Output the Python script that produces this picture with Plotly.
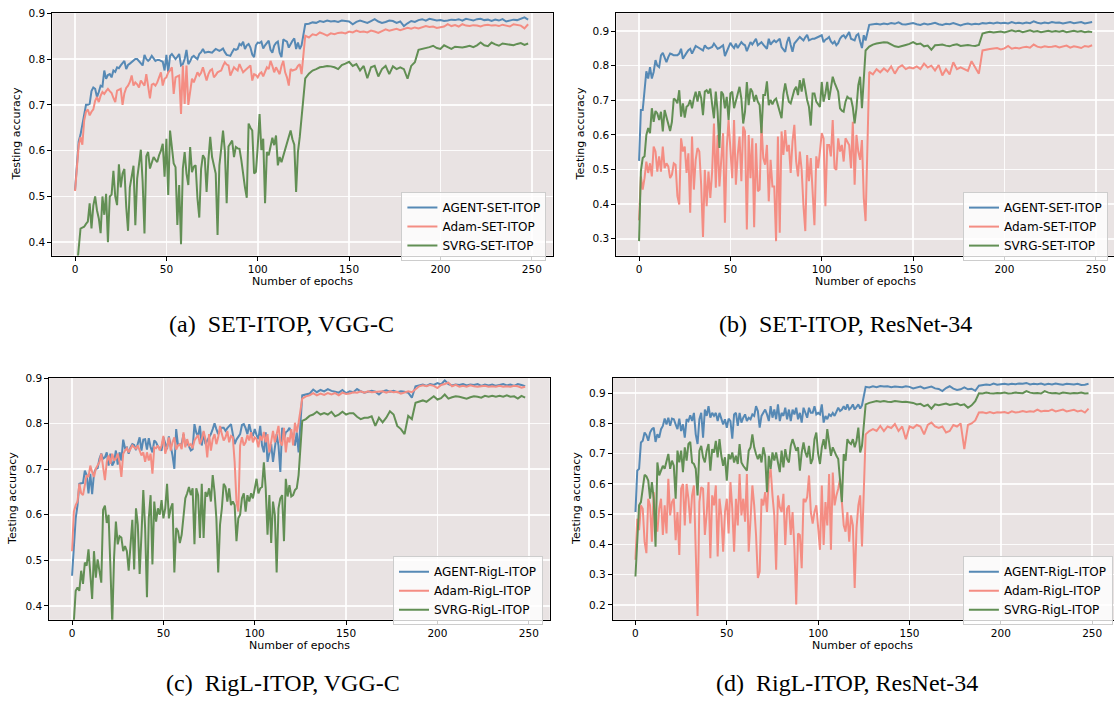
import plotly.graph_objects as go

# ---------------- data ----------------
EPOCHS_EARLY = list(range(0, 125))
EPOCHS_LATE = list(range(126, 250, 2))
EPOCHS = EPOCHS_EARLY + EPOCHS_LATE

# (a) SET-ITOP, VGG-C
A_AGENT_EARLY = [0.514,0.57,0.62,0.635,0.655,0.675,0.70,0.70,0.702,0.73,
 0.738,0.735,0.717,0.728,0.742,0.74,0.775,0.757,0.765,0.767,
 0.76,0.775,0.772,0.782,0.78,0.786,0.79,0.796,0.778,0.787,
 0.79,0.794,0.797,0.80,0.80,0.796,0.79,0.786,0.809,0.80,
 0.796,0.80,0.807,0.80,0.796,0.798,0.798,0.796,0.794,0.775,
 0.809,0.771,0.807,0.811,0.806,0.80,0.805,0.811,0.786,0.789,
 0.80,0.82,0.789,0.795,0.804,0.807,0.803,0.80,0.811,0.815,
 0.822,0.814,0.815,0.816,0.815,0.814,0.818,0.822,0.82,0.818,
 0.82,0.823,0.815,0.809,0.808,0.807,0.815,0.822,0.82,0.822,
 0.833,0.83,0.838,0.822,0.83,0.833,0.825,0.81,0.804,0.83,
 0.836,0.835,0.838,0.823,0.83,0.836,0.84,0.82,0.814,0.829,
 0.835,0.838,0.814,0.804,0.843,0.84,0.838,0.825,0.833,0.84,
 0.845,0.822,0.836,0.822,0.83]
A_AGENT_LATE = [0.876,0.877,0.88,0.879,0.883,0.881,0.884,0.882,0.883,0.881,
 0.884,0.883,0.882,0.876,0.881,0.884,0.882,0.879,0.883,0.887,
 0.882,0.879,0.881,0.884,0.883,0.879,0.882,0.872,0.878,0.883,
 0.881,0.885,0.887,0.884,0.888,0.886,0.884,0.885,0.883,0.884,
 0.886,0.885,0.887,0.884,0.888,0.886,0.884,0.887,0.888,0.885,
 0.886,0.883,0.886,0.884,0.887,0.882,0.884,0.886,0.885,0.888,
 0.891,0.886]
A_ADAM_EARLY = [0.512,0.56,0.612,0.63,0.613,0.666,0.685,0.69,0.677,0.685,
 0.69,0.709,0.717,0.706,0.72,0.728,0.724,0.73,0.735,0.73,
 0.726,0.715,0.706,0.731,0.733,0.735,0.70,0.725,0.737,0.742,
 0.75,0.764,0.742,0.749,0.745,0.738,0.753,0.748,0.742,0.767,
 0.74,0.714,0.744,0.746,0.742,0.749,0.76,0.771,0.742,0.757,
 0.76,0.771,0.775,0.782,0.724,0.76,0.762,0.764,0.68,0.786,
 0.702,0.786,0.70,0.73,0.757,0.749,0.76,0.771,0.764,0.77,
 0.782,0.77,0.753,0.767,0.775,0.778,0.76,0.765,0.771,0.773,
 0.775,0.785,0.793,0.788,0.786,0.764,0.772,0.782,0.778,0.775,
 0.789,0.78,0.771,0.775,0.778,0.782,0.786,0.753,0.767,0.765,
 0.76,0.768,0.771,0.762,0.772,0.782,0.778,0.796,0.785,0.771,
 0.782,0.775,0.767,0.785,0.796,0.771,0.76,0.742,0.778,0.775,
 0.776,0.778,0.785,0.789,0.767]
A_ADAM_LATE = [0.851,0.847,0.854,0.852,0.858,0.855,0.851,0.856,0.854,0.857,
 0.858,0.856,0.86,0.858,0.862,0.859,0.86,0.858,0.862,0.86,
 0.857,0.861,0.865,0.862,0.864,0.866,0.863,0.865,0.868,0.866,
 0.869,0.867,0.869,0.872,0.87,0.871,0.868,0.869,0.871,0.876,
 0.872,0.874,0.871,0.876,0.873,0.872,0.874,0.873,0.871,0.874,
 0.875,0.873,0.874,0.872,0.875,0.873,0.871,0.876,0.874,0.873,
 0.867,0.876]
A_SVRG_EARLY = [0.30,0.34,0.39,0.43,0.432,0.434,0.44,0.445,0.485,0.43,
 0.48,0.50,0.47,0.452,0.42,0.50,0.46,0.506,0.40,0.50,
 0.504,0.556,0.50,0.481,0.57,0.52,0.55,0.56,0.478,0.425,
 0.52,0.547,0.567,0.437,0.539,0.57,0.602,0.532,0.419,0.588,
 0.597,0.561,0.575,0.586,0.58,0.575,0.59,0.60,0.615,0.543,
 0.626,0.503,0.644,0.60,0.572,0.564,0.438,0.525,0.396,0.561,
 0.597,0.55,0.525,0.608,0.553,0.565,0.568,0.496,0.454,0.56,
 0.59,0.583,0.51,0.58,0.63,0.586,0.57,0.55,0.416,0.568,
 0.604,0.644,0.60,0.485,0.609,0.615,0.622,0.586,0.608,0.605,
 0.604,0.58,0.546,0.52,0.497,0.659,0.65,0.644,0.55,0.554,
 0.61,0.68,0.601,0.626,0.485,0.597,0.59,0.61,0.628,0.612,
 0.633,0.568,0.586,0.575,0.59,0.604,0.62,0.63,0.644,0.625,
 0.613,0.51,0.597,0.63,0.677]
A_SVRG_LATE = [0.758,0.768,0.775,0.778,0.782,0.783,0.785,0.784,0.782,0.778,
 0.787,0.79,0.794,0.785,0.789,0.775,0.785,0.758,0.782,0.785,
 0.762,0.778,0.785,0.767,0.784,0.778,0.782,0.778,0.757,0.785,
 0.793,0.82,0.822,0.823,0.826,0.829,0.824,0.822,0.83,0.826,
 0.822,0.827,0.826,0.825,0.827,0.829,0.826,0.83,0.836,0.83,
 0.828,0.836,0.832,0.829,0.834,0.833,0.831,0.83,0.833,0.835,
 0.831,0.834]

# (b) SET-ITOP, ResNet-34
B_AGENT_EARLY = [0.525,0.672,0.672,0.72,0.784,0.763,0.796,0.763,0.782,0.816,
 0.80,0.796,0.83,0.837,0.825,0.81,0.825,0.835,0.833,0.83,
 0.83,0.83,0.835,0.849,0.82,0.83,0.837,0.845,0.849,0.835,
 0.845,0.857,0.854,0.851,0.848,0.844,0.859,0.852,0.849,0.852,
 0.854,0.864,0.855,0.849,0.851,0.855,0.859,0.828,0.84,0.854,
 0.866,0.857,0.851,0.864,0.851,0.86,0.868,0.862,0.859,0.842,
 0.855,0.868,0.861,0.87,0.878,0.859,0.864,0.868,0.861,0.855,
 0.849,0.878,0.861,0.868,0.873,0.868,0.873,0.878,0.854,0.845,
 0.84,0.868,0.883,0.86,0.84,0.864,0.87,0.878,0.883,0.878,
 0.873,0.882,0.889,0.873,0.876,0.878,0.878,0.88,0.883,0.886,
 0.888,0.868,0.875,0.878,0.883,0.87,0.864,0.87,0.859,0.865,
 0.878,0.885,0.888,0.88,0.89,0.897,0.878,0.876,0.873,0.888,
 0.892,0.87,0.851,0.888,0.873]
B_AGENT_LATE = [0.918,0.92,0.921,0.919,0.922,0.92,0.923,0.921,0.925,0.92,
 0.919,0.921,0.923,0.92,0.918,0.922,0.919,0.921,0.924,0.92,
 0.918,0.921,0.92,0.923,0.919,0.916,0.92,0.922,0.919,0.921,
 0.92,0.923,0.922,0.924,0.922,0.925,0.923,0.924,0.922,0.926,
 0.923,0.924,0.922,0.925,0.923,0.928,0.924,0.922,0.925,0.923,
 0.926,0.924,0.925,0.922,0.924,0.926,0.923,0.924,0.926,0.922,
 0.925,0.926]
B_ADAM_EARLY = [0.353,0.48,0.442,0.475,0.523,0.49,0.518,0.48,0.566,0.552,
 0.494,0.538,0.494,0.566,0.504,0.518,0.509,0.475,0.485,0.518,
 0.514,0.423,0.399,0.59,0.552,0.566,0.49,0.547,0.375,0.595,
 0.442,0.528,0.562,0.552,0.456,0.305,0.499,0.394,0.494,0.418,
 0.494,0.633,0.447,0.60,0.451,0.523,0.605,0.346,0.562,0.643,
 0.562,0.475,0.643,0.456,0.542,0.595,0.466,0.624,0.61,0.327,
 0.60,0.475,0.59,0.333,0.576,0.437,0.442,0.629,0.533,0.514,
 0.571,0.408,0.528,0.451,0.451,0.293,0.595,0.317,0.61,0.542,
 0.614,0.552,0.571,0.49,0.581,0.629,0.523,0.48,0.552,0.499,
 0.394,0.322,0.542,0.466,0.533,0.442,0.339,0.538,0.504,0.552,
 0.605,0.59,0.394,0.571,0.571,0.538,0.643,0.504,0.499,0.59,
 0.552,0.571,0.523,0.59,0.581,0.571,0.504,0.638,0.456,0.60,
 0.552,0.528,0.585,0.418,0.351]
B_ADAM_LATE = [0.782,0.775,0.79,0.781,0.792,0.783,0.798,0.777,0.795,0.801,
 0.79,0.795,0.792,0.798,0.79,0.806,0.795,0.80,0.786,0.802,
 0.772,0.79,0.775,0.81,0.79,0.795,0.79,0.785,0.813,0.795,
 0.777,0.844,0.845,0.848,0.85,0.851,0.847,0.85,0.857,0.849,
 0.852,0.85,0.853,0.855,0.852,0.861,0.855,0.853,0.856,0.854,
 0.855,0.857,0.853,0.856,0.858,0.852,0.856,0.854,0.851,0.857,
 0.855,0.859]
B_SVRG_EARLY = [0.293,0.495,0.533,0.538,0.60,0.62,0.605,0.677,0.638,0.669,
 0.662,0.643,0.667,0.61,0.672,0.653,0.633,0.611,0.638,0.705,
 0.701,0.691,0.729,0.653,0.691,0.65,0.681,0.686,0.701,0.677,
 0.705,0.725,0.696,0.726,0.707,0.657,0.725,0.729,0.72,0.734,
 0.688,0.648,0.725,0.667,0.562,0.725,0.717,0.677,0.71,0.643,
 0.72,0.725,0.677,0.701,0.715,0.739,0.705,0.633,0.667,0.753,
 0.686,0.734,0.725,0.696,0.715,0.696,0.686,0.605,0.715,0.715,
 0.755,0.686,0.701,0.688,0.70,0.705,0.686,0.67,0.648,0.717,
 0.749,0.72,0.696,0.691,0.715,0.73,0.739,0.715,0.758,0.725,
 0.763,0.73,0.701,0.681,0.627,0.72,0.72,0.696,0.69,0.681,
 0.753,0.696,0.72,0.753,0.701,0.734,0.768,0.751,0.74,0.725,
 0.677,0.67,0.667,0.696,0.71,0.705,0.705,0.68,0.633,0.677,
 0.744,0.768,0.677,0.758,0.844]
B_SVRG_LATE = [0.855,0.861,0.864,0.866,0.868,0.867,0.861,0.856,0.854,0.858,
 0.86,0.863,0.868,0.862,0.864,0.856,0.858,0.846,0.859,0.86,
 0.861,0.858,0.856,0.86,0.862,0.857,0.859,0.86,0.858,0.857,
 0.86,0.893,0.896,0.898,0.896,0.897,0.899,0.896,0.898,0.902,
 0.899,0.901,0.897,0.899,0.902,0.898,0.90,0.897,0.899,0.901,
 0.898,0.90,0.898,0.901,0.897,0.899,0.901,0.898,0.90,0.897,
 0.899,0.897]

# (c) RigL-ITOP, VGG-C
C_AGENT_EARLY = [0.466,0.542,0.592,0.621,0.668,0.669,0.67,0.697,0.687,0.647,
 0.69,0.645,0.69,0.701,0.702,0.723,0.734,0.723,0.726,0.737,
 0.708,0.734,0.708,0.716,0.741,0.71,0.737,0.719,0.765,0.746,
 0.748,0.734,0.748,0.755,0.753,0.742,0.759,0.77,0.741,0.765,
 0.766,0.743,0.768,0.748,0.737,0.763,0.759,0.75,0.746,0.741,
 0.77,0.755,0.744,0.772,0.752,0.73,0.701,0.788,0.752,0.755,
 0.755,0.777,0.752,0.759,0.75,0.741,0.744,0.799,0.78,0.772,
 0.795,0.752,0.781,0.755,0.763,0.77,0.777,0.788,0.801,0.788,
 0.777,0.785,0.791,0.791,0.784,0.79,0.795,0.799,0.777,0.755,
 0.765,0.77,0.777,0.797,0.799,0.79,0.777,0.799,0.781,0.773,
 0.788,0.775,0.766,0.795,0.752,0.737,0.781,0.716,0.737,0.755,
 0.716,0.748,0.777,0.752,0.694,0.791,0.766,0.781,0.784,0.791,
 0.781,0.766,0.752,0.781,0.737]
C_AGENT_LATE = [0.862,0.864,0.866,0.875,0.869,0.874,0.871,0.876,0.872,0.87,
 0.868,0.874,0.867,0.871,0.869,0.876,0.871,0.868,0.87,0.872,
 0.87,0.864,0.871,0.873,0.87,0.872,0.869,0.871,0.87,0.868,
 0.857,0.882,0.884,0.886,0.883,0.887,0.885,0.889,0.886,0.895,
 0.887,0.884,0.886,0.885,0.887,0.884,0.886,0.885,0.887,0.883,
 0.886,0.884,0.886,0.883,0.885,0.887,0.884,0.886,0.883,0.887,
 0.885,0.882]
C_ADAM_EARLY = [0.52,0.607,0.621,0.629,0.668,0.647,0.643,0.665,0.687,0.683,
 0.708,0.694,0.683,0.701,0.708,0.716,0.734,0.701,0.676,0.716,
 0.73,0.712,0.734,0.719,0.723,0.734,0.716,0.683,0.734,0.741,
 0.746,0.737,0.744,0.752,0.748,0.745,0.752,0.741,0.73,0.737,
 0.716,0.737,0.719,0.734,0.69,0.748,0.746,0.752,0.741,0.752,
 0.773,0.734,0.748,0.77,0.741,0.759,0.77,0.743,0.752,0.755,
 0.744,0.781,0.748,0.766,0.752,0.755,0.746,0.763,0.77,0.775,
 0.755,0.766,0.784,0.766,0.726,0.777,0.741,0.766,0.777,0.755,
 0.77,0.795,0.777,0.763,0.77,0.784,0.759,0.773,0.77,0.716,
 0.629,0.607,0.752,0.77,0.752,0.759,0.775,0.763,0.781,0.759,
 0.77,0.766,0.748,0.773,0.763,0.782,0.759,0.777,0.737,0.766,
 0.784,0.759,0.777,0.795,0.759,0.752,0.791,0.737,0.77,0.759,
 0.788,0.752,0.802,0.781,0.802]
C_ADAM_LATE = [0.855,0.86,0.862,0.867,0.862,0.866,0.863,0.867,0.864,0.867,
 0.862,0.868,0.865,0.866,0.869,0.868,0.871,0.868,0.871,0.869,
 0.87,0.871,0.871,0.868,0.871,0.869,0.87,0.866,0.869,0.871,
 0.869,0.876,0.882,0.884,0.882,0.885,0.883,0.878,0.885,0.887,
 0.89,0.882,0.885,0.881,0.883,0.881,0.884,0.882,0.881,0.882,
 0.883,0.881,0.882,0.881,0.883,0.881,0.882,0.881,0.883,0.882,
 0.879,0.881]
C_SVRG_EARLY = [0.30,0.36,0.433,0.44,0.433,0.477,0.448,0.495,0.488,0.524,
 0.47,0.415,0.52,0.462,0.502,0.473,0.451,0.611,0.62,0.582,
 0.60,0.484,0.36,0.506,0.585,0.535,0.553,0.55,0.52,0.531,
 0.52,0.477,0.531,0.589,0.48,0.614,0.578,0.47,0.556,0.654,
 0.571,0.419,0.592,0.643,0.491,0.629,0.585,0.614,0.60,0.632,
 0.592,0.614,0.668,0.592,0.614,0.625,0.473,0.571,0.564,0.538,
 0.556,0.60,0.636,0.647,0.661,0.643,0.658,0.535,0.658,0.643,
 0.549,0.668,0.549,0.65,0.64,0.658,0.629,0.687,0.65,0.592,
 0.473,0.578,0.614,0.668,0.661,0.629,0.658,0.621,0.629,0.621,
 0.542,0.592,0.60,0.636,0.647,0.607,0.643,0.629,0.647,0.636,
 0.658,0.679,0.647,0.658,0.661,0.715,0.658,0.556,0.643,0.538,
 0.629,0.60,0.473,0.614,0.636,0.643,0.542,0.679,0.64,0.665,
 0.64,0.643,0.654,0.658,0.687]
C_SVRG_LATE = [0.806,0.81,0.817,0.82,0.826,0.82,0.823,0.82,0.826,0.816,
 0.82,0.826,0.82,0.823,0.823,0.815,0.81,0.813,0.813,0.816,
 0.795,0.813,0.803,0.813,0.827,0.82,0.795,0.788,0.777,0.817,
 0.81,0.846,0.848,0.851,0.848,0.855,0.86,0.853,0.856,0.864,
 0.855,0.858,0.86,0.859,0.857,0.855,0.858,0.86,0.859,0.857,
 0.861,0.859,0.861,0.859,0.861,0.859,0.862,0.859,0.86,0.855,
 0.861,0.857]

# (d) RigL-ITOP, ResNet-34
D_AGENT_EARLY = [0.507,0.644,0.65,0.737,0.743,0.77,0.761,0.743,0.77,0.781,
 0.786,0.739,0.764,0.753,0.781,0.792,0.816,0.797,0.819,0.792,
 0.816,0.814,0.797,0.781,0.816,0.775,0.797,0.753,0.814,0.808,
 0.827,0.808,0.835,0.764,0.732,0.814,0.835,0.753,0.846,0.825,
 0.857,0.819,0.835,0.825,0.835,0.808,0.835,0.819,0.797,0.814,
 0.786,0.816,0.808,0.75,0.83,0.835,0.792,0.835,0.803,0.819,
 0.83,0.808,0.819,0.814,0.83,0.825,0.857,0.841,0.786,0.825,
 0.835,0.846,0.83,0.808,0.857,0.819,0.846,0.814,0.863,0.808,
 0.835,0.825,0.852,0.814,0.846,0.808,0.846,0.83,0.852,0.814,
 0.835,0.803,0.852,0.835,0.819,0.852,0.835,0.835,0.857,0.83,
 0.835,0.83,0.863,0.803,0.825,0.814,0.83,0.825,0.835,0.825,
 0.841,0.852,0.841,0.846,0.857,0.846,0.863,0.846,0.852,0.863,
 0.846,0.857,0.863,0.849,0.86]
D_AGENT_LATE = [0.921,0.919,0.923,0.92,0.924,0.922,0.923,0.92,0.922,0.922,
 0.92,0.923,0.921,0.916,0.919,0.922,0.916,0.919,0.922,0.916,
 0.914,0.907,0.917,0.923,0.915,0.911,0.913,0.919,0.913,0.915,
 0.908,0.925,0.928,0.929,0.927,0.932,0.928,0.929,0.931,0.929,
 0.931,0.93,0.932,0.931,0.934,0.929,0.931,0.93,0.932,0.928,
 0.931,0.929,0.932,0.93,0.928,0.931,0.93,0.929,0.931,0.927,
 0.928,0.931]
D_ADAM_EARLY = [0.349,0.485,0.447,0.529,0.518,0.409,0.371,0.551,0.529,0.409,
 0.573,0.48,0.442,0.518,0.551,0.431,0.529,0.436,0.617,0.496,
 0.54,0.551,0.414,0.507,0.365,0.584,0.60,0.463,0.60,0.551,
 0.469,0.562,0.595,0.393,0.163,0.54,0.589,0.584,0.431,0.502,
 0.606,0.354,0.562,0.529,0.595,0.36,0.551,0.496,0.376,0.507,
 0.551,0.436,0.606,0.518,0.376,0.551,0.463,0.633,0.496,0.551,
 0.475,0.633,0.376,0.485,0.595,0.529,0.431,0.289,0.31,0.551,
 0.529,0.573,0.507,0.617,0.65,0.562,0.496,0.316,0.562,0.524,
 0.507,0.567,0.398,0.518,0.529,0.431,0.507,0.387,0.201,0.436,
 0.431,0.321,0.551,0.54,0.557,0.628,0.507,0.469,0.507,0.529,
 0.463,0.382,0.595,0.398,0.54,0.463,0.633,0.382,0.638,0.529,
 0.562,0.584,0.617,0.551,0.463,0.442,0.507,0.409,0.496,0.463,
 0.256,0.453,0.529,0.562,0.393]
D_ADAM_LATE = [0.764,0.775,0.781,0.775,0.792,0.775,0.79,0.785,0.798,0.775,
 0.79,0.748,0.79,0.785,0.795,0.79,0.764,0.795,0.803,0.79,
 0.785,0.79,0.77,0.775,0.795,0.79,0.80,0.715,0.795,0.80,
 0.81,0.836,0.837,0.834,0.838,0.834,0.837,0.836,0.838,0.834,
 0.84,0.836,0.838,0.841,0.838,0.84,0.839,0.846,0.84,0.842,
 0.841,0.846,0.84,0.842,0.846,0.84,0.843,0.845,0.84,0.843,
 0.836,0.849]
D_SVRG_EARLY = [0.294,0.398,0.529,0.54,0.584,0.63,0.625,0.611,0.551,0.606,
 0.551,0.392,0.671,0.628,0.644,0.66,0.65,0.677,0.699,0.65,
 0.677,0.66,0.551,0.71,0.671,0.71,0.639,0.721,0.677,0.732,
 0.739,0.671,0.666,0.65,0.562,0.71,0.726,0.688,0.671,0.71,
 0.732,0.644,0.715,0.704,0.742,0.688,0.748,0.693,0.66,0.688,
 0.611,0.699,0.682,0.704,0.671,0.693,0.666,0.732,0.671,0.66,
 0.65,0.644,0.71,0.721,0.764,0.721,0.699,0.682,0.699,0.671,
 0.721,0.693,0.573,0.693,0.65,0.704,0.677,0.704,0.671,0.639,
 0.71,0.655,0.715,0.682,0.671,0.726,0.748,0.732,0.71,0.721,
 0.644,0.704,0.737,0.704,0.688,0.726,0.666,0.682,0.748,0.77,
 0.699,0.666,0.721,0.748,0.715,0.781,0.726,0.693,0.721,0.704,
 0.693,0.682,0.617,0.54,0.699,0.677,0.748,0.737,0.732,0.748,
 0.721,0.742,0.786,0.704,0.726]
D_SVRG_LATE = [0.863,0.868,0.871,0.874,0.872,0.874,0.872,0.871,0.874,0.872,
 0.871,0.872,0.871,0.868,0.863,0.865,0.857,0.862,0.849,0.863,
 0.86,0.863,0.866,0.861,0.863,0.866,0.86,0.863,0.852,0.86,
 0.874,0.90,0.899,0.902,0.90,0.899,0.901,0.90,0.902,0.899,
 0.90,0.902,0.901,0.90,0.907,0.902,0.90,0.901,0.899,0.907,
 0.902,0.90,0.901,0.898,0.902,0.90,0.899,0.901,0.90,0.902,
 0.899,0.90]

X_TICKS = [0, 50, 100, 150, 200, 250]
Y_TICKS_A = [0.4, 0.5, 0.6, 0.7, 0.8, 0.9]
Y_TICKS_B = [0.3, 0.4, 0.5, 0.6, 0.7, 0.8, 0.9]
Y_TICKS_C = [0.4, 0.5, 0.6, 0.7, 0.8, 0.9]
Y_TICKS_D = [0.2, 0.3, 0.4, 0.5, 0.6, 0.7, 0.8, 0.9]

CAPTIONS = ["(a)  SET-ITOP, VGG-C", "(b)  SET-ITOP, ResNet-34",
            "(c)  RigL-ITOP, VGG-C", "(d)  RigL-ITOP, ResNet-34"]
METHOD_NAMES = ["AGENT", "Adam", "SVRG"]
SPARSE_NAMES = ["SET-ITOP", "SET-ITOP", "RigL-ITOP", "RigL-ITOP"]

SERIES = [
    [A_AGENT_EARLY + A_AGENT_LATE, A_ADAM_EARLY + A_ADAM_LATE, A_SVRG_EARLY + A_SVRG_LATE],
    [B_AGENT_EARLY + B_AGENT_LATE, B_ADAM_EARLY + B_ADAM_LATE, B_SVRG_EARLY + B_SVRG_LATE],
    [C_AGENT_EARLY + C_AGENT_LATE, C_ADAM_EARLY + C_ADAM_LATE, C_SVRG_EARLY + C_SVRG_LATE],
    [D_AGENT_EARLY + D_AGENT_LATE, D_ADAM_EARLY + D_ADAM_LATE, D_SVRG_EARLY + D_SVRG_LATE],
]
Y_TICKS = [Y_TICKS_A, Y_TICKS_B, Y_TICKS_C, Y_TICKS_D]

# ---------------- layout geometry (pixels) ----------------
W, H = 1114, 704
COLORS = ["rgb(86,137,181)", "rgb(244,141,131)", "rgb(98,143,84)"]
BG = "rgb(233,227,227)"
FONT = "DejaVu Sans"

PANELS = [
    dict(x0=52.3, x1=552.7, y0=7.3, y1=251.7, xr=[-12.45, 261.45], yr=[0.371, 0.9], full=True,
         leg=(546.4, 187.7), ytitle_x=16, cap=(281.7, 321.0)),
    dict(x0=616.3, x1=W, y0=7.3, y1=251.7, xr=[-12.45, -12.45 + (W - 616.3) / 1.827], yr=[0.2513, 0.9516], full=False,
         leg=(1108.0, 187.7), ytitle_x=580, cap=(845.0, 321.0)),
    dict(x0=49.3, x1=549.7, y0=375.3, y1=619.0, xr=[-12.45, 261.45], yr=[0.3695, 0.9], full=True,
         leg=(543.0, 555.0), ytitle_x=13, cap=(282.5, 683.0)),
    dict(x0=612.7, x1=W, y0=375.3, y1=619.0, xr=[-12.45, -12.45 + (W - 612.7) / 1.827], yr=[0.1508, 0.950], full=False,
         leg=(1112.9, 555.0), ytitle_x=577, cap=(847.0, 683.0)),
]

fig = go.Figure()
annotations = []
layout_axes = {}

for i, (p, series) in enumerate(zip(PANELS, SERIES)):
    n = "" if i == 0 else str(i + 1)
    legname = "legend" + n
    for j, ys in enumerate(series):
        fig.add_trace(go.Scatter(
            x=EPOCHS, y=ys, mode="lines",
            name=f"{METHOD_NAMES[j]}-{SPARSE_NAMES[i]}",
            line=dict(color=COLORS[j], width=2),
            xaxis="x" + n, yaxis="y" + n, legend=legname,
        ))
    xd = [p["x0"] / W, min(p["x1"] / W, 1.0)]
    yd = [1 - p["y1"] / H, 1 - p["y0"] / H]
    layout_axes["xaxis" + n] = dict(
        domain=xd, range=p["xr"], anchor="y" + n,
        tickvals=X_TICKS, ticks="outside", ticklen=4, tickwidth=1, tickcolor="black",
        showline=True, linecolor="black", linewidth=1, mirror=True,
        showgrid=True, gridcolor="rgba(255,255,255,0.85)", gridwidth=1.6,
        zeroline=False, tickfont=dict(family=FONT, size=10.5, color="black"),
    )
    layout_axes["yaxis" + n] = dict(
        domain=yd, range=p["yr"], anchor="x" + n,
        tickvals=Y_TICKS[i], tickformat=".1f", ticks="outside", ticklen=4, tickwidth=1, tickcolor="black",
        showline=True, linecolor="black", linewidth=1, mirror=p["full"],
        showgrid=True, gridcolor="rgba(255,255,255,0.85)", gridwidth=1.6,
        zeroline=False, tickfont=dict(family=FONT, size=10.5, color="black"),
    )
    layout_axes[legname] = dict(
        x=p["leg"][0] / W, y=1 - p["leg"][1] / H, xanchor="right", yanchor="top",
        bgcolor="rgba(255,255,255,0.8)", bordercolor="rgb(205,205,205)", borderwidth=1,
        font=dict(family=FONT, size=12, color="black"), itemwidth=30,
        tracegroupgap=0,
    )
    annotations.append(dict(
        text="Number of epochs", xref="paper", yref="paper",
        x=(p["x0"] + min(p["x1"], p["x0"] + 500.4)) / 2 / W, y=1 - (p["y1"] + 26.0) / H,
        xanchor="center", yanchor="middle", showarrow=False,
        font=dict(family=FONT, size=11, color="black"),
    ))
    annotations.append(dict(
        text="Testing accuracy", xref="paper", yref="paper",
        x=p["ytitle_x"] / W, y=1 - (p["y0"] + p["y1"]) / 2 / H,
        xanchor="center", yanchor="middle", textangle=-90, showarrow=False,
        font=dict(family=FONT, size=11, color="black"),
    ))
    annotations.append(dict(
        text=CAPTIONS[i], xref="paper", yref="paper",
        x=p["cap"][0] / W, y=1 - p["cap"][1] / H,
        xanchor="center", yanchor="middle", showarrow=False,
        font=dict(family="Liberation Serif", size=24, color="black"),
    ))

fig.update_layout(
    width=W, height=H, margin=dict(l=0, r=0, t=0, b=0),
    paper_bgcolor="white", plot_bgcolor=BG,
    annotations=annotations, showlegend=True, hovermode=False,
    **layout_axes,
)

fig.write_html("out.html", config={"displayModeBar": False, "staticPlot": True},
               post_script="document.body.style.margin='0';document.body.style.overflow='hidden';")
